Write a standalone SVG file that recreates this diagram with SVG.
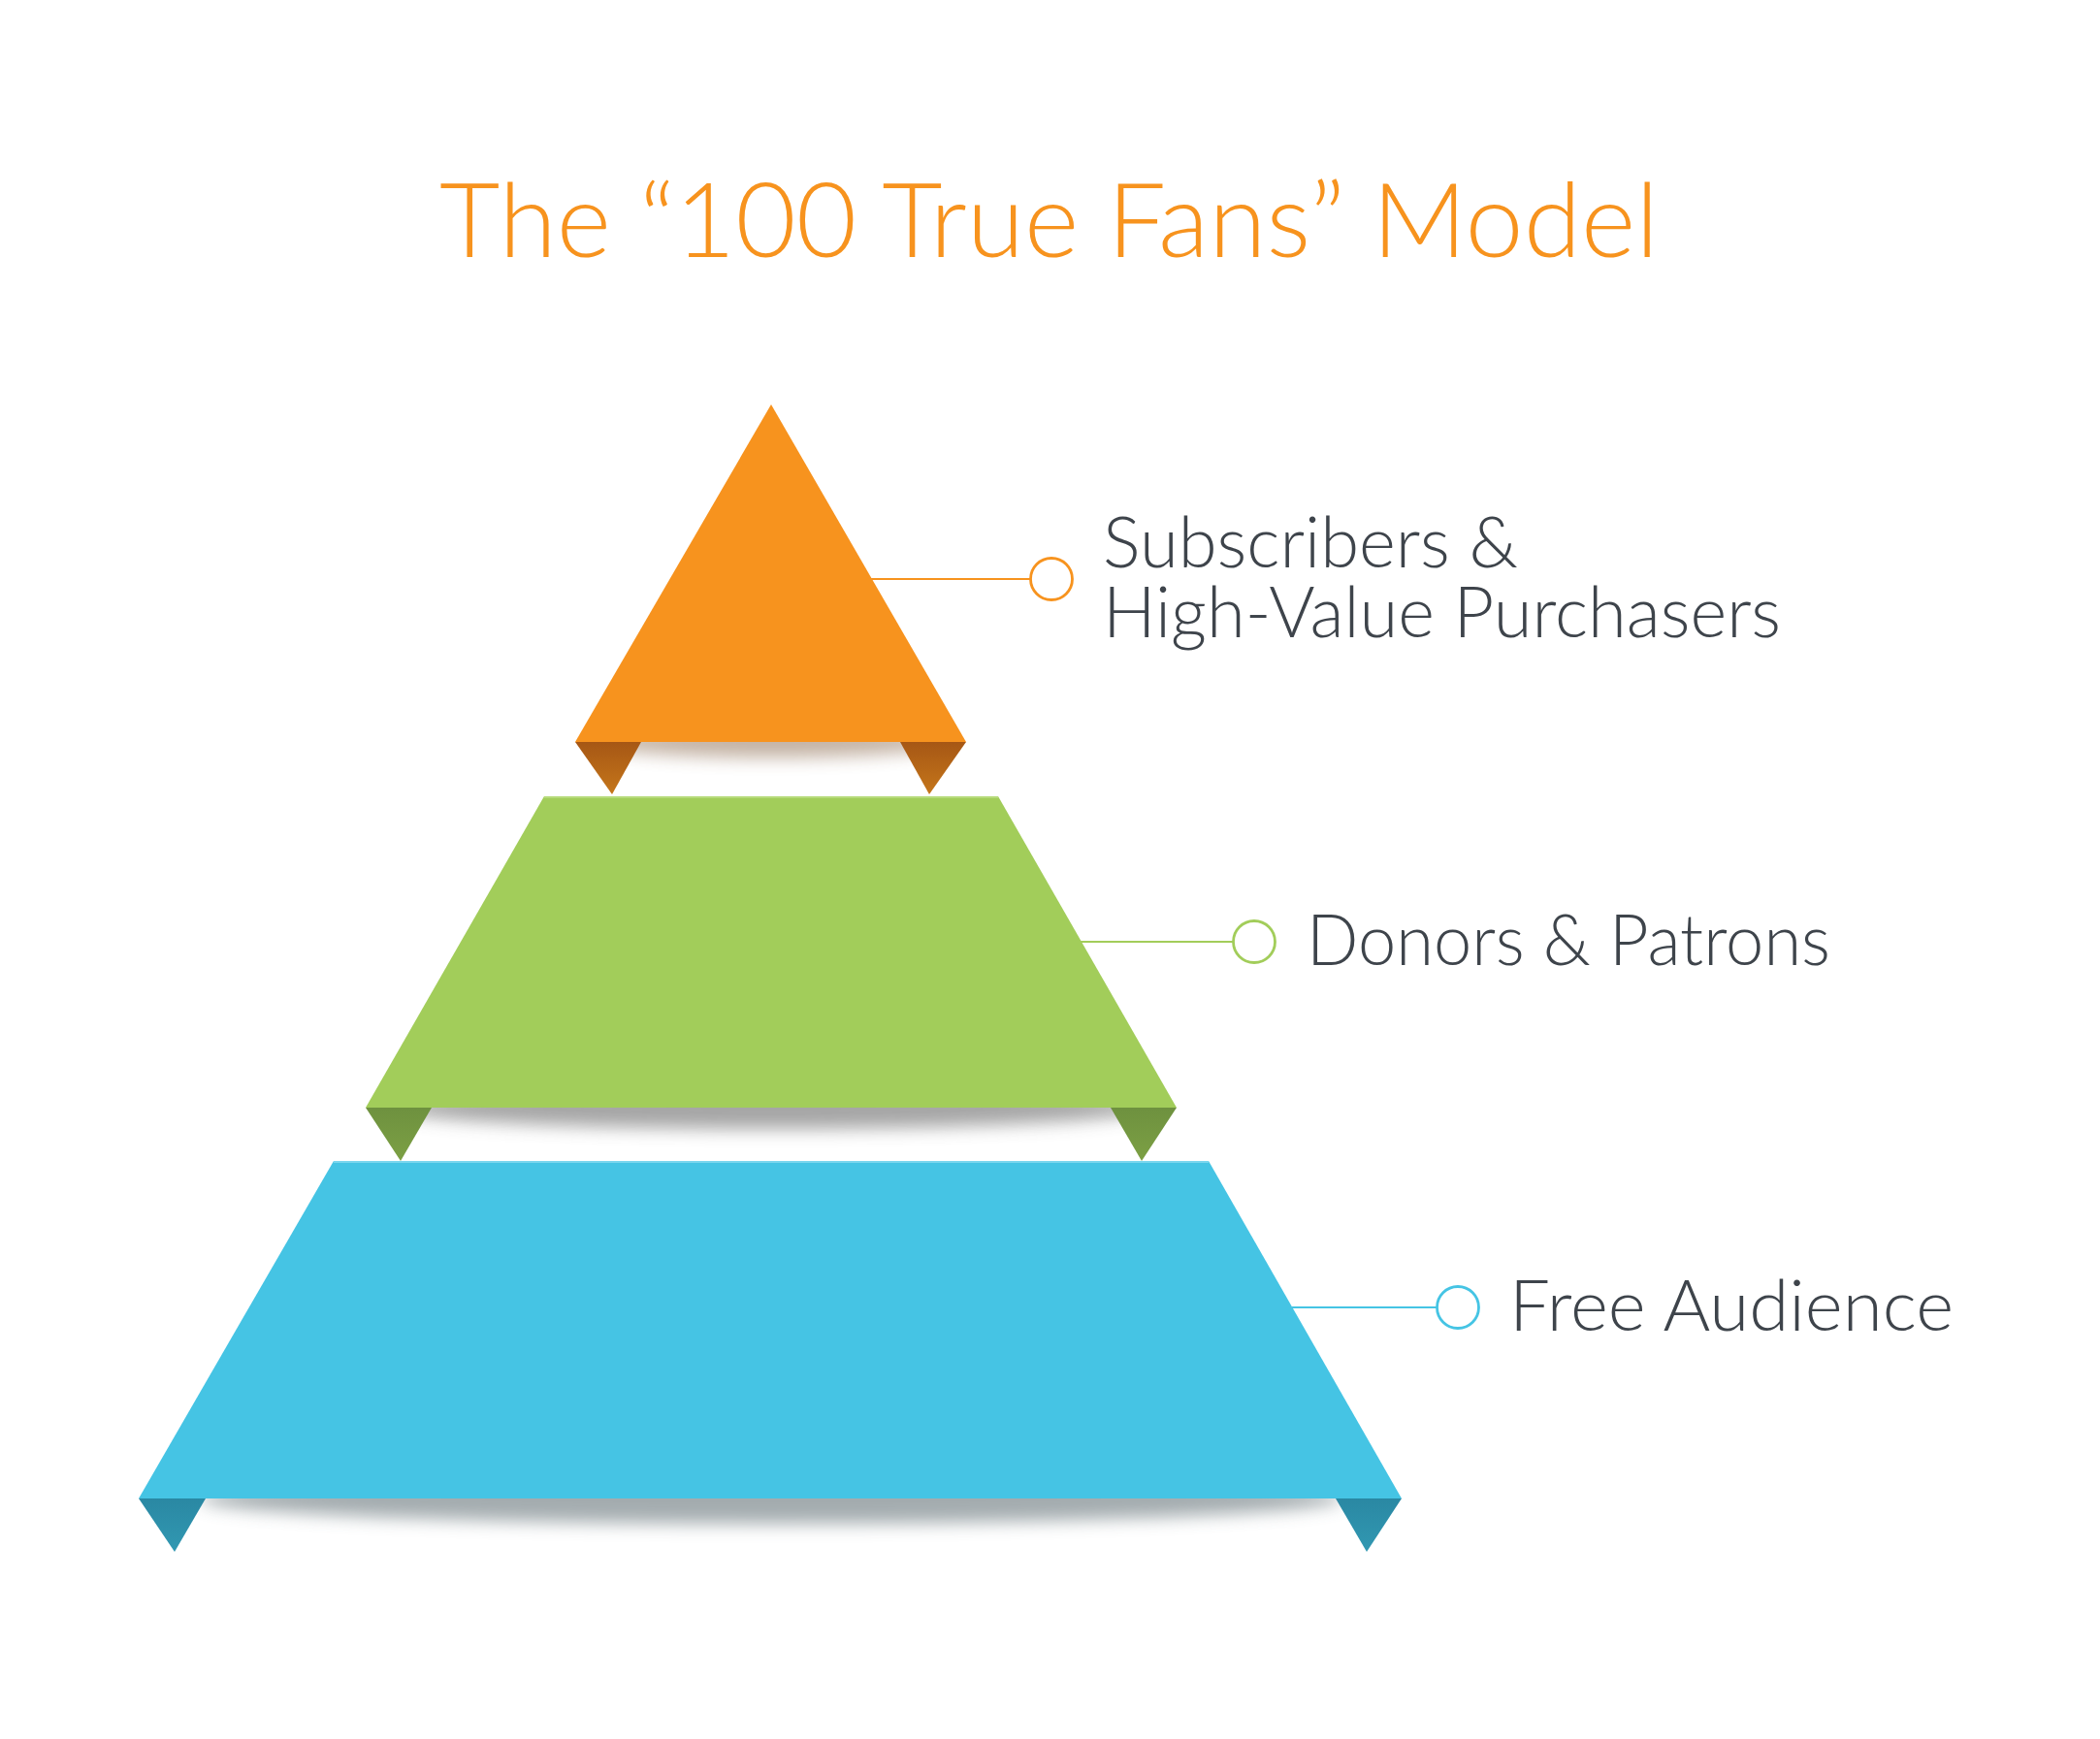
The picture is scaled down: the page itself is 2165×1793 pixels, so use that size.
<svg xmlns="http://www.w3.org/2000/svg" width="2165" height="1793" viewBox="0 0 2165 1793">
  <defs>
    <style>
      .title { font-family: Lato, "Open Sans", "Liberation Sans", sans-serif; font-weight: 300; font-size: 107px; fill: #f7931e; }
      .label { font-family: Lato, "Open Sans", "Liberation Sans", sans-serif; font-weight: 300; font-size: 72px; fill: #3e444b; }
      .conn { fill: none; stroke-width: 2.2; }
      .dot { fill: #ffffff; stroke-width: 2.8; }
    </style>
    <linearGradient id="gTabO" x1="0" y1="0" x2="0" y2="1">
      <stop offset="0" stop-color="#a65715"/>
      <stop offset="1" stop-color="#c5761a"/>
    </linearGradient>
    <linearGradient id="gTabG" x1="0" y1="0" x2="0" y2="1">
      <stop offset="0" stop-color="#6e913f"/>
      <stop offset="1" stop-color="#7ca044"/>
    </linearGradient>
    <linearGradient id="gTabB" x1="0" y1="0" x2="0" y2="1">
      <stop offset="0" stop-color="#2a88a3"/>
      <stop offset="1" stop-color="#3198b2"/>
    </linearGradient>
    <filter id="blur" x="-20%" y="-200%" width="140%" height="500%">
      <feGaussianBlur stdDeviation="9"/>
    </filter>
    <clipPath id="clipO"><rect x="593" y="765" width="403" height="60"/></clipPath>
    <clipPath id="clipG"><rect x="377" y="1142" width="836" height="60"/></clipPath>
    <clipPath id="clipB"><rect x="143" y="1545" width="1302" height="70"/></clipPath>
  </defs>
  <rect width="2165" height="1793" fill="#ffffff"/>

  <g id="title">
    <text class="title" x="453" y="265" textLength="1257" lengthAdjust="spacingAndGlyphs">The “100 True Fans” Model</text>
  </g>

  <g id="tier-bottom">
    <g clip-path="url(#clipB)">
      <ellipse cx="795" cy="1545" rx="590" ry="26" fill="#4a5a60" opacity="0.5" filter="url(#blur)"/>
    </g>
    <polygon points="344,1197 1246,1197 1445,1545 143,1545" fill="#45c4e4"/>
    <line x1="344" y1="1198" x2="1246" y2="1198" stroke="#7ad6ee" stroke-width="2"/>
    <polygon points="143,1545 212,1545 180,1600" fill="url(#gTabB)"/>
    <polygon points="1377,1545 1445,1545 1409,1600" fill="url(#gTabB)"/>
  </g>

  <g id="tier-middle">
    <g clip-path="url(#clipG)">
      <ellipse cx="795" cy="1142" rx="390" ry="22" fill="#4d4d4d" opacity="0.5" filter="url(#blur)"/>
    </g>
    <polygon points="561,821 1029,821 1213,1142 377,1142" fill="#a2cd5a"/>
    <line x1="561" y1="822" x2="1029" y2="822" stroke="#b6da7a" stroke-width="2"/>
    <polygon points="377,1142 445,1142 413,1197" fill="url(#gTabG)"/>
    <polygon points="1145,1142 1213,1142 1177,1197" fill="url(#gTabG)"/>
  </g>

  <g id="tier-top">
    <g clip-path="url(#clipO)">
      <ellipse cx="795" cy="765" rx="180" ry="16" fill="#7a5535" opacity="0.45" filter="url(#blur)"/>
    </g>
    <polygon points="795,417 996,765 593,765" fill="#f7931e"/>
    <polygon points="593,765 661,765 631,819" fill="url(#gTabO)"/>
    <polygon points="928,765 996,765 958,819" fill="url(#gTabO)"/>
  </g>

  <g id="connectors">
    <line class="conn" x1="898" y1="597" x2="1062" y2="597" stroke="#f7931e"/>
    <line class="conn" x1="1113" y1="971" x2="1271" y2="971" stroke="#a2cd5a"/>
    <line class="conn" x1="1332" y1="1348" x2="1481" y2="1348" stroke="#45c4e4"/>
  </g>

  <g id="label-top">
    <circle class="dot" cx="1084" cy="597" r="21.5" stroke="#f7931e"/>
    <text class="label" x="1137" y="585" textLength="428" lengthAdjust="spacingAndGlyphs">Subscribers &amp;</text>
    <text class="label" x="1137" y="657" textLength="699" lengthAdjust="spacingAndGlyphs">High-Value Purchasers</text>
  </g>

  <g id="label-middle">
    <circle class="dot" cx="1293" cy="971" r="21.5" stroke="#a2cd5a"/>
    <text class="label" x="1347" y="995" textLength="540" lengthAdjust="spacingAndGlyphs">Donors &amp; Patrons</text>
  </g>

  <g id="label-bottom">
    <circle class="dot" cx="1503" cy="1348" r="21.5" stroke="#45c4e4"/>
    <text class="label" x="1556" y="1372" textLength="458" lengthAdjust="spacingAndGlyphs">Free Audience</text>
  </g>
</svg>
